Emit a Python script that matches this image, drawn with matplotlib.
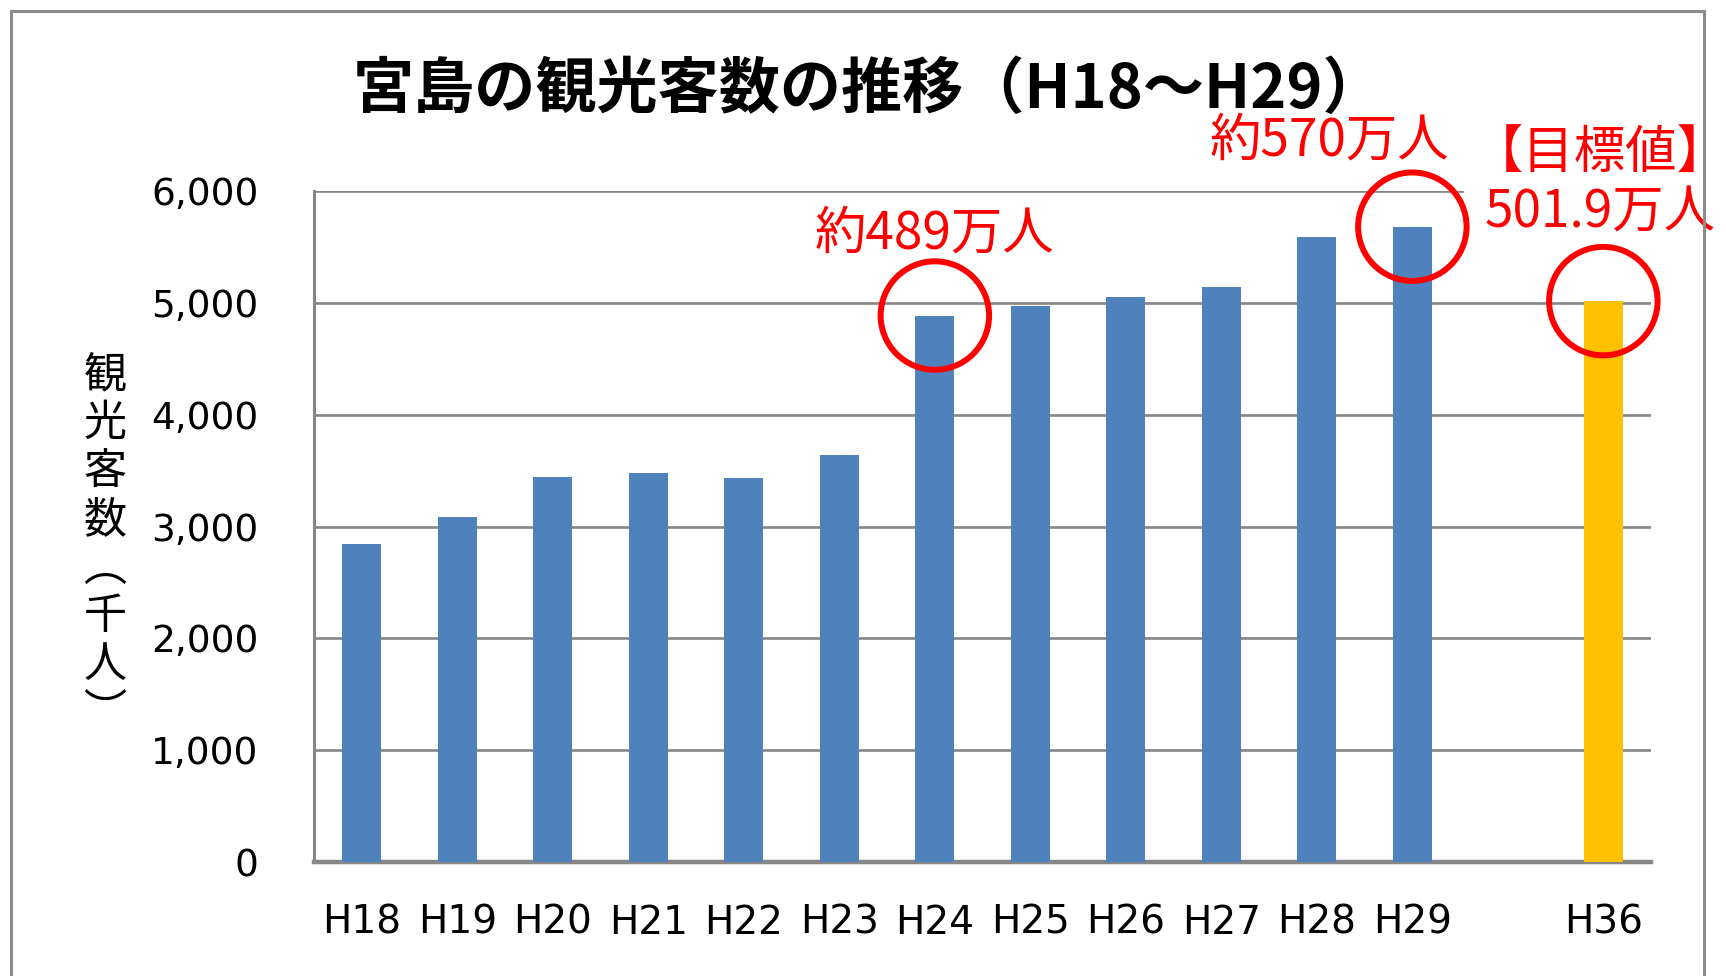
import numpy as np
import matplotlib
matplotlib.use('Agg')
import matplotlib.pyplot as plt
from matplotlib.patches import Rectangle

plt.rcParams['font.family'] = ['Noto Sans CJK JP', 'DejaVu Sans']

# data (thousand people)
years = ['H18', 'H19', 'H20', 'H21', 'H22', 'H23', 'H24', 'H25', 'H26', 'H27', 'H28', 'H29']
visitors = [2847, 3084, 3448, 3478, 3438, 3645, 4890, 4975, 5054, 5143, 5596, 5685]
target_year = 'H36'
target_value = 5019

title = '宮島の観光客数の推移（H18～H29）'
ylabel_chars = ['観', '光', '客', '数', '︵', '千', '人', '︶']
yticks = [0, 1000, 2000, 3000, 4000, 5000, 6000]

blue = '#4F81BD'
orange = '#FFC000'
grid_gray = '#868686'
red = '#FF0000'

fig = plt.figure(figsize=(17.26, 9.76), dpi=100)
fig.patches.append(Rectangle((11 / 1726, -0.1), (1704 - 11) / 1726, 1.1 - 11 / 976,
                             transform=fig.transFigure, fill=False,
                             edgecolor='#8c8c8c', linewidth=2.2, zorder=0))

ax = fig.add_axes([0.182, 0.1168, 0.9566 - 0.182, 0.8038 - 0.1168])

x = np.arange(len(years))
x_t = len(years) + 1
ax.bar(x, visitors, width=0.41, color=blue, zorder=3)
ax.bar([x_t], [target_value], width=0.41, color=orange, zorder=3)

ax.set_xlim(-0.5, x_t + 0.5)
ax.set_ylim(0, 6000)
ax.set_yticks(yticks)
ax.set_yticklabels(['{:,}'.format(v) for v in yticks], family='DejaVu Sans', fontsize=27)
ax.set_xticks(list(x) + [x_t])
ax.set_xticklabels(years + [target_year], family=['Liberation Sans Narrow', 'DejaVu Sans'],
                   fontsize=28)
ax.tick_params(axis='y', length=0, pad=40)
ax.tick_params(axis='x', length=0, pad=30)
ax.yaxis.grid(True, color=grid_gray, linewidth=1.9, zorder=1)
ax.set_axisbelow(True)
for s in ['top', 'right']:
    ax.spines[s].set_visible(False)
ax.spines['left'].set_color(grid_gray)
ax.spines['left'].set_linewidth(2.2)
ax.spines['bottom'].set_color(grid_gray)
ax.spines['bottom'].set_linewidth(3.2)

fig.text(0.503, 0.908, title, fontsize=44, fontweight='bold', ha='center', va='center')
fig.text(105 / 1726, 0.442, '\n'.join(ylabel_chars), fontsize=31, ha='center', va='center',
         linespacing=1.12)

# red circles on highlighted bars
hl = [6, 11]
ax.scatter([x[i] for i in hl] + [x_t], [visitors[i] for i in hl] + [target_value],
           s=6100, facecolors='none', edgecolors=red, linewidths=4.3, zorder=8, clip_on=False)

ax.annotate('約{}万人'.format(round(visitors[6] / 10)), xy=(x[6], visitors[6]),
            xytext=(0, 82), textcoords='offset pixels', ha='center', va='center',
            color=red, fontsize=37, zorder=7, annotation_clip=False)
ax.annotate('約{}万人'.format(round(visitors[11] / 100) * 10), xy=(x[11], visitors[11]),
            xytext=(-83, 86), textcoords='offset pixels', ha='center', va='center',
            color=red, fontsize=37, zorder=7, annotation_clip=False)
ax.annotate('【目標値】\n{:.1f}万人'.format(target_value / 10), xy=(x_t, target_value),
            xytext=(-3, 118), textcoords='offset pixels', ha='center', va='center',
            color=red, fontsize=37, zorder=7, linespacing=1.12, annotation_clip=False,
            bbox=dict(boxstyle='square,pad=0.15', facecolor='white', edgecolor='none'))

fig.savefig('out.png', dpi=100)
